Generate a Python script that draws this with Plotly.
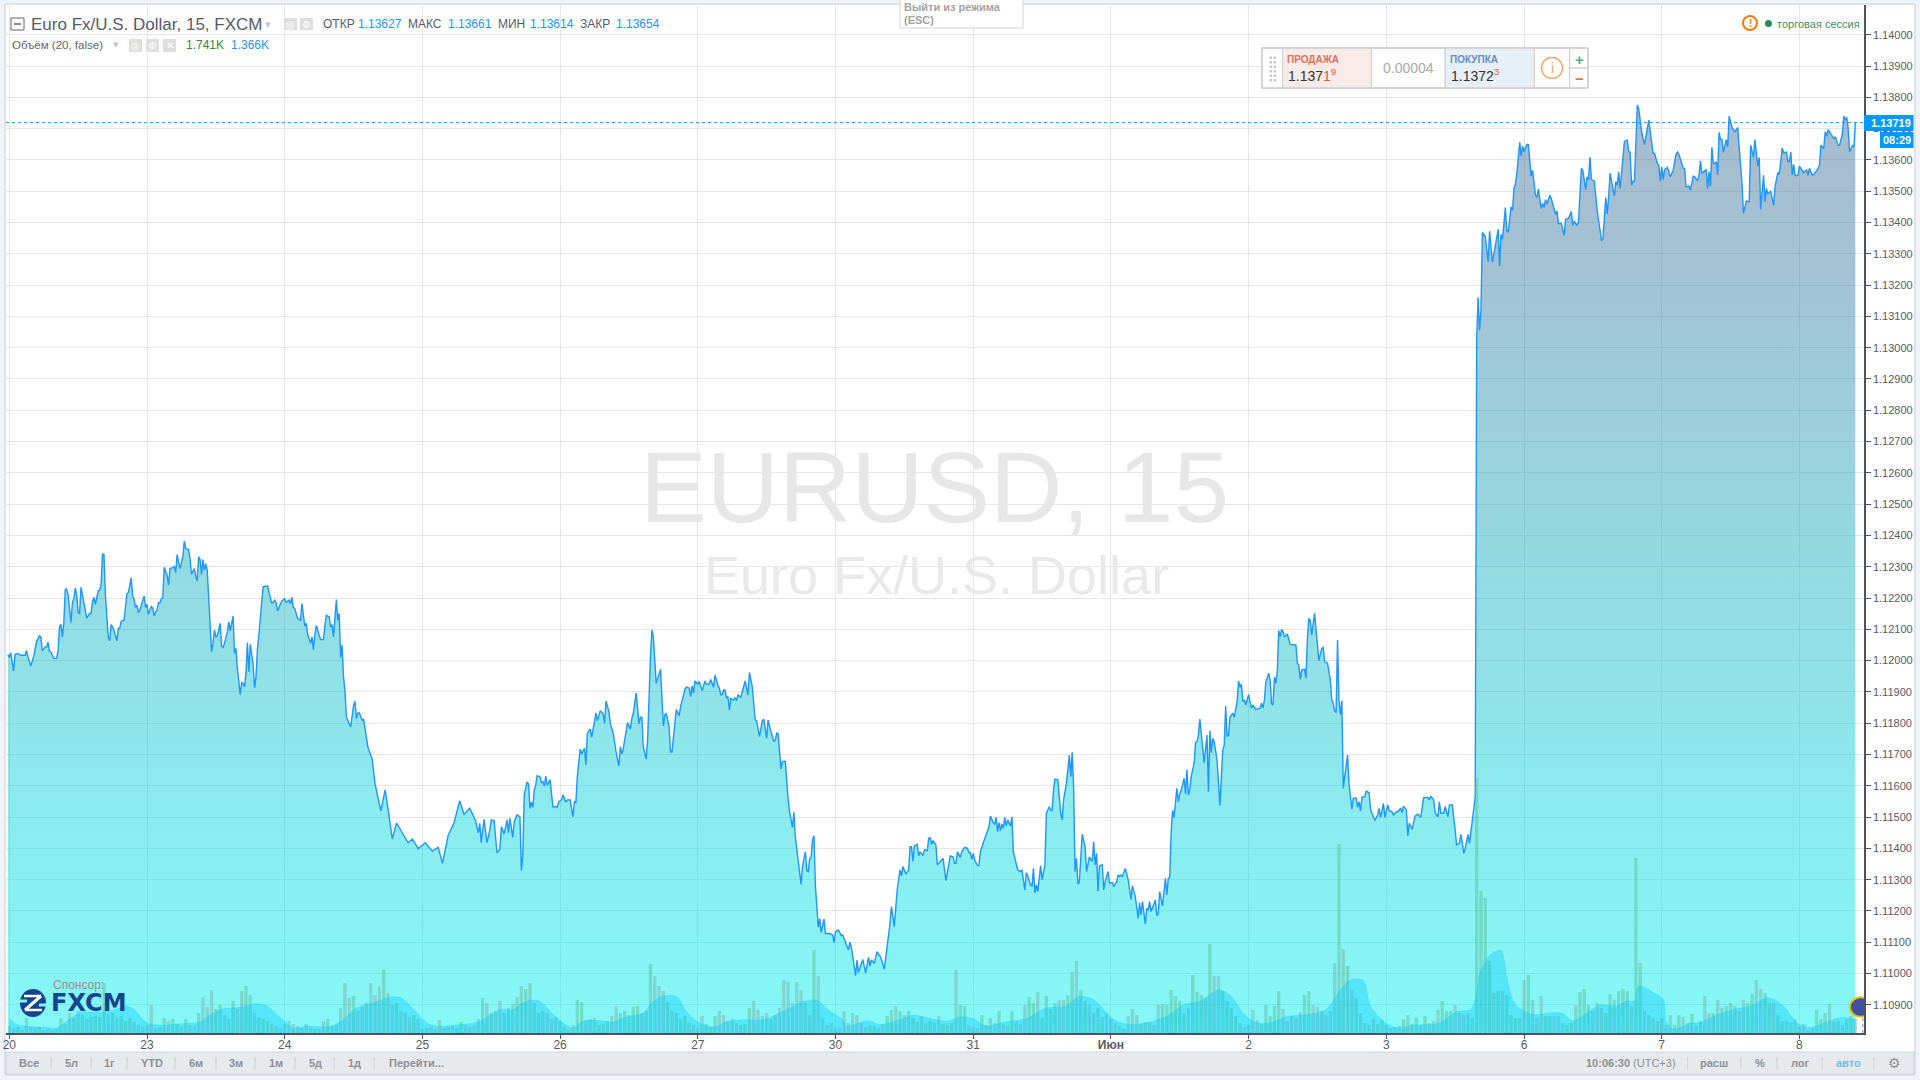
import numpy as np
import plotly.graph_objects as go

# 15 minute bars, 96 to a session. Closes are in 1e-5 of a dollar.
bars_may20_25 = [
    -1, 0, 1, 3, 4, 6, 8, 11, 12, 13, 15, 17, 19, 21, 22, 23, 25, 26, 27, 28, 29, 31, 33, 34, 35, 36, 37, 38, 39, 40, 41, 42, 43,
    44, 45, 46, 47, 48, 49, 50, 52, 53, 54, 56, 57, 58, 59, 60, 62, 63, 64, 65, 66, 67, 68, 69, 70, 71, 72, 73, 75, 76, 77,
    78, 80, 82, 83, 85, 86, 87, 88, 89, 90, 91, 92, 94, 95, 96, 97, 99, 100, 101, 102, 103, 104, 105, 106, 107, 108, 110, 111,
    112, 114, 115, 116, 117, 119, 121, 122, 123, 125, 126, 127, 129, 130, 131, 132, 133, 134, 135, 136, 137, 138, 139, 140,
    141, 142, 143, 144, 145, 147, 148, 149, 150, 152, 153, 154, 156, 157, 158, 159, 161, 162, 163, 164, 165, 166, 167, 168,
    170, 171, 172, 173, 174, 176, 177, 180, 181, 183, 185, 186, 187, 188, 190, 192, 193, 195, 196, 197, 198, 199, 201, 203,
    204, 206, 207, 208, 210, 211, 212, 213, 214, 217, 219, 220, 221, 223, 224, 225, 226, 228, 229, 230, 231, 232, 233, 234,
    235, 236, 238, 240, 241, 242, 243, 244, 246, 247, 250, 253, 255, 259, 262, 264, 267, 270, 274, 278, 281, 285, 290, 295,
    299, 302, 306, 310, 314, 317, 321, 325, 327,
]
close_may20_25 = [
    112019, 112010, 112025, 111967, 112020, 112023, 112017, 112017, 112032, 112012, 111983, 112014, 112060, 112079, 112076, 112031, 112044,
    112044, 112059, 112030, 112027, 112007, 112007, 112033, 112108, 112116, 112076, 112119, 112227, 112229, 112209, 112151, 112121,
    112185, 112198, 112232, 112209, 112153, 112151, 112234, 112182, 112151, 112136, 112151, 112151, 112188, 112202, 112180, 112223,
    112225, 112243, 112340, 112339, 112209, 112151, 112076, 112063, 112115, 112108, 112097, 112063, 112103, 112103, 112126, 112129,
    112214, 112217, 112264, 112206, 112196, 112170, 112177, 112153, 112161, 112177, 112206, 112170, 112180, 112148, 112174, 112167,
    112143, 112156, 112161, 112185, 112185, 112198, 112201, 112298, 112273, 112241, 112294, 112297, 112300, 112282, 112339, 112294,
    112332, 112382, 112358, 112355, 112326, 112276, 112294, 112270, 112255, 112332, 112323, 112275, 112323, 112289, 112310, 112289,
    112209, 112140, 112028, 112055, 112097, 112076, 112078, 112119, 112046, 112042, 112055, 112092, 112124, 112095, 112142, 112023,
    112039, 111975, 111891, 111930, 111927, 111916, 111959, 112058, 111964, 112052, 111988, 111913, 111948, 112039, 112081, 112188,
    112236, 112239, 112217, 112182, 112193, 112185, 112159, 112172, 112191, 112198, 112186, 112193, 112182, 112202, 112170, 112167,
    112135, 112129, 112182, 112110, 112119, 112084, 112055, 112076, 112035, 112081, 112112, 112067, 112067, 112110, 112145, 112140,
    112108, 112115, 112076, 112195, 112129, 112151, 112010, 112049, 111948, 111905, 111820, 111809, 111788, 111857, 111870, 111815,
    111833, 111833, 111809, 111813, 111724, 111685, 111606, 111520, 111587, 111528, 111430, 111481, 111450, 111418, 111430, 111399,
    111418, 111391, 111403, 111352, 111442, 111481, 111552, 111509, 111528, 111489, 111450,
]

bars_may25_31 = [
    328, 329, 331, 333, 335, 336, 338, 340, 342, 343, 345, 347, 348, 349, 351, 352, 354, 356, 357, 358, 359, 361, 362, 363, 364,
    365, 366, 367, 368, 370, 371, 372, 373, 374, 375, 377, 378, 379, 381, 382, 383, 385, 386, 388, 389, 391, 393, 394, 395, 396,
    398, 399, 401, 402, 403, 405, 406, 408, 409, 410, 412, 414, 415, 416, 418, 419, 421, 423, 425, 426, 427, 428, 430, 431, 433,
    434, 435, 437, 439, 440, 441, 442, 444, 445, 447, 448, 449, 450, 451, 454, 456, 457, 458, 460, 461, 462, 464, 465, 467, 468,
    471, 472, 474, 475, 476, 477, 478, 480, 481, 483, 485, 486, 488, 489, 491, 492, 494, 495, 496, 497, 498, 499, 500, 501, 502,
    503, 505, 506, 507, 508, 510, 512, 513, 515, 516, 518, 520, 521, 523, 525, 526, 528, 529, 531, 533, 534, 535, 536, 538, 539,
    541, 543, 544, 546, 547, 548, 550, 552, 553, 555, 556, 557, 558, 559, 560, 561, 562, 564, 565, 566, 568, 569, 572, 574, 575,
    576, 578, 580, 581, 583, 585, 586, 587, 590, 591, 592, 595, 597, 599, 600, 601, 603, 605, 607, 608, 610, 612, 613, 614, 615,
    617, 619, 621, 622, 623, 625, 627, 628, 629, 630, 631, 633, 634, 635, 637, 638, 640, 641, 642, 643, 644, 646, 647, 649, 651,
    653, 655, 656, 658, 659, 660, 661, 663,
]
close_may25_31 = [
    111480, 111418, 111493, 111418, 111459, 111491, 111489, 111386, 111397, 111469, 111446, 111491, 111450, 111496, 111435, 111485,
    111507, 111501, 111329, 111379, 111571, 111612, 111606, 111528, 111548, 111531, 111587, 111603, 111632, 111629, 111610, 111613,
    111599, 111631, 111602, 111619, 111565, 111533, 111533, 111531, 111549, 111555, 111571, 111547, 111555, 111555, 111501, 111549,
    111547, 111629, 111717, 111702, 111720, 111667, 111768, 111781, 111755, 111816, 111832, 111808, 111840, 111830, 111800, 111871,
    111837, 111800, 111768, 111709, 111663, 111725, 111702, 111717, 111778, 111802, 111781, 111816, 111830, 111896, 111798, 111819,
    111819, 111725, 111685, 111746, 112013, 112098, 112077, 111992, 111928, 111972, 111791, 111826, 111832, 111789, 111708, 111708,
    111810, 111844, 111824, 111853, 111908, 111915, 111912, 111885, 111919, 111896, 111935, 111925, 111933, 111904, 111935, 111925,
    111925, 111940, 111915, 111953, 111922, 111912, 111891, 111891, 111906, 111906, 111880, 111885, 111842, 111879, 111874, 111882,
    111872, 111890, 111883, 111915, 111935, 111890, 111962, 111915, 111810, 111808, 111757, 111808, 111813, 111752, 111810, 111773,
    111741, 111746, 111768, 111766, 111653, 111678, 111678, 111555, 111517, 111467, 111515, 111437, 111352, 111285, 111342, 111389,
    111329, 111326, 111365, 111373, 111427, 111440, 111278, 111148, 111176, 111131, 111174, 111128, 111128, 111123, 111099, 111134,
    111139, 111121, 111123, 111096, 111075, 111100, 111086, 110993, 111043, 111003, 111045, 111001, 111052, 111024, 111043, 111033,
    111070, 111056, 111045, 111014, 111080, 111128, 111160, 111214, 111150, 111267, 111331, 111312, 111342, 111318, 111331, 111405,
    111405, 111358, 111408, 111413, 111376, 111389, 111377, 111395, 111393, 111432, 111434, 111413, 111425, 111411, 111347, 111358,
    111368, 111297, 111352, 111376, 111373, 111352, 111352, 111389, 111371,
]

bars_jun1_3 = [
    664, 666, 668, 669, 670, 671, 672, 673, 675, 676, 677, 679, 680, 683, 684, 686, 687, 688, 689, 690, 691, 692, 693, 694, 695,
    696, 698, 699, 700, 701, 703, 705, 706, 708, 709, 710, 712, 713, 714, 715, 716, 717, 719, 720, 722, 723, 725, 726, 727, 728,
    729, 731, 733, 734, 735, 737, 739, 740, 741, 742, 743, 744, 745, 746, 747, 748, 750, 751, 753, 755, 756, 757, 758, 759, 760,
    762, 763, 764, 766, 767, 769, 770, 772, 773, 774, 775, 776, 778, 780, 781, 782, 783, 785, 787, 788, 789, 790, 792, 793, 794,
    795, 796, 799, 800, 801, 802, 804, 806, 807, 808, 809, 810, 811, 812, 814, 815, 816, 818, 819, 820, 821, 822, 823, 824, 826,
    827, 828, 829, 830, 831, 833, 835, 836, 837, 838, 839, 840, 842, 844, 846, 847, 848, 849, 850, 851, 853, 854, 856, 857, 858,
    859, 860, 861, 862, 864, 865, 866, 867, 869, 872, 873, 874, 875, 876, 878, 879, 880, 881, 882, 883, 884, 885, 886, 887, 888,
    889, 891, 893, 897, 898, 899, 900, 901, 903, 904, 905, 906, 907, 908, 910, 911, 913, 915, 916, 917, 919, 921, 922, 923, 924,
    925, 926, 927, 928, 929, 930, 931, 933, 934, 936, 937, 939, 940, 941, 942, 943, 945, 946, 948, 949, 951, 952, 954, 955, 956,
    958, 959, 961, 962, 964, 965, 967, 968, 970, 971, 972, 974, 975, 976, 978, 980, 982, 984, 985, 986, 989, 990, 991, 993, 994,
    996, 997, 998, 1000, 1001, 1003, 1004, 1006, 1007, 1008, 1009, 1011, 1012, 1014, 1015, 1017, 1018, 1020, 1021, 1022,
]
close_jun1_3 = [
    111389, 111403, 111400, 111387, 111387, 111365, 111384, 111363, 111345, 111345, 111389, 111418, 111432, 111469, 111503, 111482,
    111478, 111499, 111453, 111482, 111457, 111478, 111464, 111499, 111472, 111491, 111472, 111501, 111389, 111368, 111331, 111326,
    111331, 111267, 111322, 111312, 111283, 111280, 111336, 111258, 111283, 111262, 111344, 111299, 111347, 111512, 111533, 111521,
    111521, 111587, 111621, 111619, 111512, 111491, 111555, 111608, 111698, 111629, 111707, 111597, 111326, 111368, 111286, 111294,
    111384, 111445, 111405, 111326, 111373, 111358, 111421, 111347, 111384, 111262, 111344, 111347, 111267, 111294, 111326, 111290,
    111290, 111278, 111294, 111315, 111310, 111315, 111310, 111336, 111301, 111267, 111237, 111280, 111246, 111176, 111226, 111187,
    111230, 111158, 111208, 111203, 111230, 111198, 111235, 111185, 111190, 111262, 111216, 111304, 111251, 111304, 111307, 111448,
    111521, 111499, 111592, 111549, 111574, 111603, 111624, 111574, 111651, 111571, 111587, 111629, 111672, 111738, 111741, 111762,
    111813, 111768, 111674, 111762, 111581, 111776, 111706, 111752, 111741, 111683, 111537, 111714, 111730, 111855, 111757, 111762,
    111819, 111832, 111819, 111869, 111935, 111915, 111925, 111869, 111874, 111858, 111892, 111869, 111848, 111858, 111844, 111848,
    111864, 111848, 111874, 111930, 111960, 111938, 111862, 111858, 111947, 111928, 111965, 112096, 112077, 112100, 112093, 112075,
    112085, 112052, 112050, 111992, 111986, 111940, 111970, 111973, 111944, 112071, 112135, 112128, 112082, 112151, 112098, 112000,
    112039, 112042, 111997, 111992, 111938, 111874, 111862, 111839, 111834, 112066, 111874, 111828, 111872, 111592, 111629, 111698,
    111608, 111525, 111560, 111560, 111531, 111549, 111519, 111563, 111565, 111583, 111578, 111523, 111501, 111489, 111507, 111528,
    111499, 111544, 111499, 111539, 111521, 111517, 111507, 111517, 111517, 111528, 111514, 111535, 111523, 111440, 111480, 111461,
    111503, 111509, 111499, 111531, 111562, 111563, 111555, 111567, 111555, 111514, 111501, 111549, 111512, 111512, 111533, 111501,
    111539, 111539, 111485, 111459, 111411, 111416, 111445, 111384, 111400, 111445, 111416, 111501, 111544, 111565,
]

bars_jun3_8 = [
    1023, 1024, 1025, 1026, 1027, 1029, 1031, 1032, 1034, 1037, 1038, 1039, 1040, 1041, 1043, 1044, 1045, 1047, 1048, 1049, 1050, 1051,
    1053, 1054, 1055, 1056, 1058, 1059, 1060, 1061, 1062, 1064, 1065, 1066, 1068, 1069, 1070, 1071, 1072, 1074, 1075, 1078, 1079, 1080,
    1082, 1084, 1085, 1087, 1089, 1090, 1091, 1093, 1094, 1096, 1097, 1099, 1100, 1101, 1102, 1103, 1105, 1107, 1110, 1111, 1113, 1114,
    1115, 1116, 1119, 1120, 1121, 1122, 1123, 1124, 1126, 1128, 1129, 1130, 1131, 1132, 1133, 1135, 1136, 1138, 1140, 1143, 1145, 1146,
    1147, 1149, 1150, 1151, 1152, 1153, 1154, 1156, 1158, 1160, 1162, 1163, 1164, 1167, 1168, 1169, 1171, 1172, 1174, 1175, 1177, 1178,
    1179, 1180, 1183, 1184, 1185, 1186, 1187, 1188, 1190, 1191, 1192, 1193, 1194, 1195, 1197, 1198, 1199, 1201, 1203, 1205, 1206, 1208,
    1209, 1211, 1213, 1214, 1216, 1217, 1219, 1220, 1221, 1223, 1224, 1225, 1226, 1228, 1230, 1231, 1233, 1234, 1236, 1237, 1239, 1240,
    1241, 1242, 1243, 1244, 1245, 1247, 1248, 1251, 1253, 1254, 1255, 1257, 1258, 1260, 1262, 1263, 1265, 1266, 1267, 1268, 1270, 1272,
    1273, 1275, 1276, 1278, 1279, 1280, 1281, 1282, 1283, 1285, 1286, 1287,
]
close_jun3_8 = [
    113026, 113160, 113056, 113120, 113368, 113356, 113274, 113372, 113274, 113363, 113378, 113261, 113362, 113346, 113448, 113373,
    113370, 113450, 113439, 113509, 113522, 113557, 113656, 113613, 113644, 113626, 113650, 113649, 113583, 113548, 113567, 113487,
    113480, 113507, 113445, 113461, 113448, 113473, 113459, 113487, 113477, 113426, 113437, 113397, 113397, 113359, 113410, 113413,
    113435, 113391, 113404, 113391, 113402, 113573, 113567, 113505, 113546, 113537, 113608, 113537, 113533, 113439, 113343, 113346,
    113480, 113427, 113480, 113557, 113485, 113530, 113519, 113562, 113508, 113567, 113658, 113663, 113626, 113625, 113519, 113532,
    113532, 113775, 113764, 113690, 113649, 113727, 113653, 113621, 113621, 113589, 113583, 113533, 113578, 113537, 113569, 113576,
    113546, 113567, 113618, 113625, 113618, 113573, 113573, 113514, 113516, 113503, 113548, 113546, 113533, 113551, 113596, 113557,
    113569, 113509, 113562, 113516, 113640, 113586, 113594, 113553, 113688, 113665, 113666, 113624, 113665, 113642, 113740, 113704,
    113690, 113703, 113642, 113525, 113429, 113469, 113466, 113647, 113608, 113665, 113580, 113608, 113442, 113551, 113466, 113509,
    113491, 113500, 113455, 113514, 113560, 113554, 113638, 113623, 113625, 113595, 113595, 113625, 113552, 113586, 113550, 113551,
    113580, 113559, 113569, 113551, 113573, 113551, 113554, 113565, 113583, 113647, 113637, 113690, 113676, 113697, 113682, 113668,
    113674, 113647, 113647, 113684, 113740, 113727, 113736, 113700, 113626, 113647, 113640, 113719,
]

# volume in hundreds of ticks, one reading for every third bar
volume_every_3 = [
    7, 5, 6, 3, 15, 6, 5, 6, 3, 4, 3, 4, 15, 9, 20, 15, 22, 18, 14, 16, 17, 16, 50, 18, 20, 15, 17, 12, 15, 11, 8, 6,
    8, 28, 5, 6, 15, 12, 14, 9, 6, 14, 8, 7, 20, 36, 26, 43, 24, 28, 18, 14, 32, 24, 42, 47, 38, 20, 16, 14, 12, 9, 7, 5,
    9, 12, 9, 7, 5, 9, 5, 4, 4, 12, 14, 7, 8, 25, 50, 35, 37, 22, 26, 30, 50, 38, 46, 63, 40, 28, 30, 22, 20, 16, 18, 14,
    4, 5, 6, 4, 13, 5, 6, 7, 5, 11, 8, 6, 7, 14, 35, 30, 20, 22, 32, 20, 25, 29, 36, 47, 44, 50, 30, 20, 22, 20, 14, 16,
    12, 6, 3, 8, 33, 31, 13, 14, 15, 8, 9, 12, 17, 27, 20, 22, 18, 26, 27, 20, 22, 69, 57, 47, 42, 31, 22, 20, 14, 17, 10, 8,
    5, 17, 9, 6, 17, 22, 18, 12, 14, 10, 8, 9, 25, 32, 23, 17, 20, 14, 18, 25, 53, 51, 30, 51, 43, 30, 18, 83, 57, 15, 8, 10,
    4, 5, 22, 10, 20, 18, 10, 6, 8, 7, 5, 9, 17, 23, 27, 22, 18, 22, 15, 11, 17, 10, 12, 10, 17, 9, 8, 10, 63,
    28, 27, 8, 6, 5, 18, 8, 15, 10, 22, 9, 7, 22, 12, 9, 28, 36, 30, 41, 15, 37, 24, 30, 33, 33, 38, 61, 72, 43, 32, 28, 20,
    25, 16, 20, 14, 10, 7, 4, 17, 24, 18, 9, 11, 10, 8, 28, 29, 28, 43, 37, 32, 20, 25, 58, 41, 38, 35, 89, 57, 57, 42, 32, 25,
    17, 10, 6, 8, 23, 13, 9, 28, 17, 27, 42, 24, 12, 17, 15, 21, 38, 42, 28, 26, 22, 18, 22, 70, 189, 84, 67, 44, 35, 20, 10,
    8, 14, 9, 13, 8, 5, 6, 7, 14, 18, 9, 15, 7, 17, 10, 12, 23, 32, 22, 22, 28, 20, 18, 20, 15, 255, 142, 135, 72, 40, 42, 42,
    38, 18, 15, 15, 53, 58, 33, 15, 37, 17, 17, 17, 17, 10, 8, 10, 28, 41, 44, 28, 22, 30, 25, 20, 39, 33, 42, 44, 42, 27, 175, 70,
    22, 18, 15, 12, 15, 8, 18, 8, 18, 16, 10, 19, 7, 12, 37, 20, 20, 33, 25, 27, 30, 27, 22, 33, 30, 39, 53, 44, 40, 30, 30, 18,
    12, 12, 10, 14, 6, 9, 3, 5, 23, 14, 20, 29, 12, 12, 8, 14, 17, 14,
]

# 20 period volume average, in ticks
ma_bars = [
    0, 5, 12, 24, 33, 40, 49, 59, 70, 82, 87, 96, 107, 117, 133, 140, 149, 161, 173, 180, 189, 198, 207, 224, 233, 242, 254, 266, 273,
    282, 291, 298, 314, 324, 328, 335, 342, 351, 358, 363, 370, 377, 384, 393, 400, 412, 421, 430, 442, 449, 456, 465, 472, 481, 491,
    500, 512, 526, 537, 547, 554, 563, 572, 581, 584, 598, 607, 621, 630, 640, 654, 663, 672, 681, 691, 700, 709, 723, 737, 746, 756,
    763, 770, 781, 795, 807, 819, 830, 837, 844, 853, 860, 870, 881, 891, 905, 918, 925, 932, 938, 944, 949, 958, 967, 979, 997,
    1009, 1018, 1021, 1025, 1032, 1040, 1044, 1050, 1062, 1076, 1083, 1090, 1102, 1109, 1121, 1128, 1133, 1136, 1146, 1153, 1155,
    1160, 1172, 1179, 1186, 1202, 1214, 1226, 1237, 1246, 1255, 1260, 1276, 1287,
]
ma_values = [
    1430, 830, 670, 570, 500, 1170, 2000, 2060, 2170, 2670, 2330, 1000, 770, 900, 1100, 1830, 2400, 2570, 2930, 2670, 1500, 500, 670, 670,
    1330, 2500, 3000, 3600, 3500, 2330, 1000, 670, 830, 1000, 1170, 1770, 2330, 2330, 3000, 3270, 3170, 2170, 1230, 500, 1170, 1230, 1100,
    1570, 2000, 3170, 3670, 3670, 2170, 1000, 570, 1100, 1330, 1330, 2000, 2670, 3170, 3270, 2170, 1330, 670, 1230, 830, 1330, 1770, 1500,
    1170, 1600, 1430, 670, 1000, 1230, 1430, 2500, 2670, 3670, 3330, 2330, 1330, 830, 1100, 1670, 2830, 3170, 3830, 4330, 3500, 2000, 1000,
    1100, 1670, 1830, 2330, 3670, 5000, 5400, 5230, 2670, 1170, 500, 770, 1000, 2130, 2300, 2860, 5860, 7760, 8260, 5530, 2860, 1860, 2030,
    1960, 1200, 2200, 2800, 2700, 3200, 3200, 4700, 4030, 3360, 1200, 370, 970, 1030, 1530, 2360, 2700, 3530, 2700, 1030, 530, 700, 1530, 1370,
]

day_labels = ["20", "23", "24", "25", "26", "27", "30", "31", "<b>Июн</b>", "2", "3", "6", "7", "8"]
bars_per_session = 96
last_price = 1.13719
range_buttons = ["Все", "5л", "1г", "YTD", "6м", "3м", "1м", "5д", "1д"]

# page layout of the chart, in screen pixels
PLOT_L, PLOT_R, PLOT_T, PLOT_B = 6, 1864, 5, 1033
FIRST_TICK_PX = 9.3
BAR_PX = 137.7 / bars_per_session
FONT = "Liberation Sans"
INK = "#555b66"
BLUE = "#2196f3"
PAGE_BG = "#f0f3f7"


def px_x(v):
    return (v - PLOT_L) / (PLOT_R - PLOT_L)


def px_y(v):
    return (PLOT_B - v) / (PLOT_B - PLOT_T)


bars = np.array(bars_may20_25 + bars_may25_31 + bars_jun1_3 + bars_jun3_8)
close = np.array(close_may20_25 + close_may25_31 + close_jun1_3 + close_jun3_8) / 1e5
volume = np.array(volume_every_3) * 100
volume_bars = np.arange(len(volume)) * 3
close_at_volume = np.interp(volume_bars, bars, close)
went_up = np.diff(close_at_volume, prepend=close_at_volume[0]) >= 0

fig = go.Figure()

fig.add_trace(go.Scatter(
    x=bars, y=close, mode="lines", fill="tozeroy",
    line=dict(color="#1e96ff", width=1.4),
    fillgradient=dict(
        type="vertical", start=1.1081, stop=1.1412,
        colorscale=[
            [0.0, "rgba(9,241,241,0.5)"],
            [0.26, "rgba(27,209,217,0.5)"],
            [0.48, "rgba(43,177,193,0.5)"],
            [0.70, "rgba(69,139,175,0.5)"],
            [1.0, "rgba(85,105,145,0.5)"],
        ],
    ),
    showlegend=False,
))
fig.add_trace(go.Bar(
    x=volume_bars, y=volume, yaxis="y2", width=2.3,
    marker=dict(color=["rgba(83,185,135,0.42)" if up else "rgba(120,140,130,0.3)" for up in went_up], line_width=0),
    showlegend=False,
))
fig.add_trace(go.Scatter(
    x=ma_bars, y=ma_values, yaxis="y2", mode="lines", fill="tozeroy",
    line=dict(color="rgba(0,200,255,0.25)", width=1, shape="spline", smoothing=0.8),
    fillcolor="rgba(0,200,255,0.36)",
    showlegend=False,
))

shapes = []
notes = []


def box(x0, y0, x1, y1, fill=None, line=None, layer="above", width=1, kind="rect"):
    shapes.append(dict(
        type=kind, xref="paper", yref="paper", layer=layer,
        x0=px_x(x0), x1=px_x(x1), y0=px_y(y0), y1=px_y(y1),
        fillcolor=fill or "rgba(0,0,0,0)",
        line=dict(color=line or "rgba(0,0,0,0)", width=width if line else 0),
    ))


def note(x, y, text, size=12, color=INK, anchor="left", family=FONT):
    notes.append(dict(
        xref="paper", yref="paper", x=px_x(x), y=px_y(y), text=text, showarrow=False,
        xanchor=anchor, yanchor="middle", borderpad=0,
        font=dict(family=family, size=size, color=color),
    ))


# white strips next to the plot, toolbar underneath
box(PLOT_R, 5, 1914, 1052, fill="#ffffff", layer="below")
box(6, PLOT_B, 1864, 1052, fill="#ffffff", layer="below")
box(6, 1052, 1914, 1074, fill="#e7eaed", line="#d0d3d6", layer="below")
box(5, 4, 1915, 1075, line="#cfd2d6", layer="below")

# watermark
note(934, 487, "EURUSD, 15", size=100, color="#e7e7e7", anchor="center")
note(936, 575, "Euro Fx/U.S. Dollar", size=54, color="#e9e9e9", anchor="center")

# legend rows
box(11, 18, 24, 30, line="#666666")
box(14, 24, 21, 24, line="#666666")
note(30, 24, "Euro Fx/U.S. Dollar, 15, FXCM", size=17)
note(268, 24, "▾", size=11, color="#c4c4c4", anchor="center", family="DejaVu Sans")
for x0, glyph in [(284, "◎"), (300, "⚙")]:
    box(x0, 18, x0 + 13, 30, fill="#dedede")
    note(x0 + 6.5, 24, glyph, size=10, color="#ffffff", anchor="center", family="DejaVu Sans")
for x, label in [(321.5, "ОТКР"), (406.5, "МАКС"), (496.5, "МИН"), (578.5, "ЗАКР")]:
    note(x, 24, label, size=12)
for x, value in [(357, "1.13627"), (447, "1.13661"), (529, "1.13614"), (615, "1.13654")]:
    note(x, 24, value, size=12, color=BLUE)
note(11, 45, "Объём (20, false)", size=11.5, color="#666666")
note(116, 45, "▾", size=11, color="#c4c4c4", anchor="center", family="DejaVu Sans")
for x0, glyph in [(129, "◎"), (146, "⚙"), (163, "✕")]:
    box(x0, 39, x0 + 13, 52, fill="#dedede")
    note(x0 + 6.5, 45.5, glyph, size=10, color="#ffffff", anchor="center", family="DejaVu Sans")
note(185, 45, "1.741K", size=12, color="#2e8b3d")
note(230, 45, "1.366K", size=12, color=BLUE)

# exit fullscreen hint
box(900, -2, 1023, 28, fill="#ffffff", line="#d6d6d6")
note(903, 7, "<b>Выйти из режима</b>", size=11, color="#a3a3a3")
note(903, 20, "<b>(ESC)</b>", size=11, color="#a3a3a3")

# session status
box(1743, 16, 1757, 30, line="#f57c00", width=2, kind="circle")
note(1750, 23, "<b>!</b>", size=10, color="#f57c00", anchor="center")
box(1765, 20, 1772, 27, fill="#2e8b57", kind="circle")
note(1776, 24, "торговая сессия", size=11, color="#3a8f63")

# trading panel
box(1262, 48, 1588, 88, fill="#ffffff", line="#c9c9c9", width=1.5)
box(1282.5, 49, 1371.4, 87, fill="#f9ece8")
box(1445, 49, 1534.4, 87, fill="#e7f0f8")
for x in [1282.5, 1371.4, 1445, 1534.4, 1569.6]:
    box(x, 48, x, 88, line="#d2d2d2")
box(1569.6, 68, 1588, 68, line="#d2d2d2")
for row in range(6):
    for x in [1269.5, 1273.5]:
        box(x, 56.5 + row * 4.5, x + 2.5, 59 + row * 4.5, fill="#c9c9c9")
note(1286, 59, "<b>ПРОДАЖА</b>", size=10, color="#e4705a")
note(1287, 75, '1.137<span style="color:#e4573d">1<sup>9</sup></span>', size=14, color="#333333")
note(1408, 68, "0.00004", size=14, color="#aaaaaa", anchor="center")
note(1449, 59, "<b>ПОКУПКА</b>", size=10, color="#6a8cc4")
note(1450, 75, '1.1372<span style="color:#e4573d"><sup>3</sup></span>', size=14, color="#333333")
box(1541.5, 57.5, 1562.5, 78.5, line="#f5a868", width=1.5, kind="circle")
note(1552, 68, "i", size=14, color="#f5a868", anchor="center")
note(1579, 59, "<b>+</b>", size=15, color="#4caf7d", anchor="center")
note(1579, 78.5, "<b>−</b>", size=15, color="#e4705a", anchor="center")

# current price tag
box(PLOT_R, 115, 1913.5, 131, fill="#0099ff")
note(1891, 123, f"<b>{last_price:.5f}</b>", size=11, color="#ffffff", anchor="center")
box(1880, 132, 1913.5, 148, fill="#0099ff")
note(1897, 140, "<b>08:29</b>", size=11, color="#ffffff", anchor="center")

# sponsor logo
note(52, 985, "Спонсор:", size=12, color="#a08c8c")
box(20, 989, 46, 1017, fill="#14438f", kind="circle")
box(17, 1001, 27, 1001, line="#84f6f6", width=3)
box(39, 1005, 49, 1005, line="#84f6f6", width=3)
box(24, 996, 41, 996, line="#ffffff", width=2.5)
box(41, 996, 25, 1010, line="#ffffff", width=3, kind="line")
box(25, 1010, 42, 1010, line="#ffffff", width=2.5)
note(50, 1003, "<b>FXCM</b>", size=24, color="#14438f", family="DejaVu Sans")

# bottom toolbar
for x, label in zip([29, 71, 109, 152, 196, 236, 276, 315, 354], range_buttons):
    note(x, 1063, f"<b>{label}</b>", size=11, color="#8c8f94", anchor="center")
note(387.5, 1063, "<b>Перейти...</b>", size=11, color="#8c8f94")
for x in [51, 91, 127, 175, 216, 255, 295, 334, 374]:
    box(x, 1057, x, 1069, line="#d3d6d9")
note(1585, 1063, "<b>10:06:30</b> (UTC+3)", size=11, color="#8c8f94")
note(1714, 1063, "<b>расш</b>", size=11, color="#8c8f94", anchor="center")
note(1759.5, 1063, "<b>%</b>", size=11, color="#8c8f94", anchor="center")
note(1800, 1063, "<b>лог</b>", size=11, color="#8c8f94", anchor="center")
note(1848, 1063, "<b>авто</b>", size=11, color="#6cbcee", anchor="center")
note(1894, 1063, "⚙", size=14, color="#8c8f94", anchor="center", family="DejaVu Sans")
for x in [1687.5, 1741, 1777, 1822, 1874]:
    box(x, 1057, x, 1069, line="#d3d6d9")

# dotted last price line and the events coin, both clipped by the plot
shapes.append(dict(
    type="line", xref="paper", yref="y", x0=0, x1=1, y0=last_price, y1=last_price, layer="above",
    line=dict(color="#0099ff", width=1, dash="dot"),
))
coin_bar = (1860.7 - FIRST_TICK_PX) / BAR_PX
shapes.append(dict(
    type="line", xref="x", yref="y", x0=coin_bar + 1.5, x1=coin_bar + 1.5, y0=1.1081, y1=1.1086, layer="above",
    line=dict(color="#888888", width=1, dash="dot"),
))
shapes.append(dict(
    type="circle", xref="x", yref="y", layer="above",
    x0=coin_bar - 7.6, x1=coin_bar + 7.6, y0=1.10862, y1=1.10924,
    fillcolor="#3f51a5", line=dict(color="#e8c400", width=2),
))

fig.update_layout(
    width=1920, height=1080,
    margin=dict(l=PLOT_L, r=1920 - PLOT_R, t=PLOT_T, b=1080 - PLOT_B, pad=0, autoexpand=False),
    paper_bgcolor=PAGE_BG, plot_bgcolor="#ffffff",
    font=dict(family=FONT, size=11, color=INK),
    hovermode=False, showlegend=False, barmode="overlay",
    xaxis=dict(
        range=[(PLOT_L - FIRST_TICK_PX) / BAR_PX, (PLOT_R - FIRST_TICK_PX) / BAR_PX],
        tickvals=[i * bars_per_session for i in range(len(day_labels))], ticktext=day_labels,
        showgrid=True, gridcolor="#e6e6e6", gridwidth=1, zeroline=False,
        showline=True, linecolor="#4c525e", linewidth=1.5,
        ticks="outside", ticklen=4, tickcolor="#4c525e", tickfont=dict(size=12, color=INK),
        ticklabelstandoff=-4,
    ),
    yaxis=dict(
        range=[1.1081, 1.14095], side="right", tick0=1.109, dtick=0.001, tickformat=".5f",
        showgrid=True, gridcolor="#e6e6e6", gridwidth=1, zeroline=False,
        showline=True, linecolor="#4c525e", linewidth=1.5,
        ticks="outside", ticklen=5, tickcolor="#4c525e", tickfont=dict(size=11, color=INK),
    ),
    yaxis2=dict(range=[0, 102800], overlaying="y", visible=False, fixedrange=True),
    shapes=shapes, annotations=notes,
)

fig.write_html(
    "out.html",
    config=dict(displayModeBar=False),
    post_script="document.body.style.margin='0';document.body.style.overflow='hidden';",
)
